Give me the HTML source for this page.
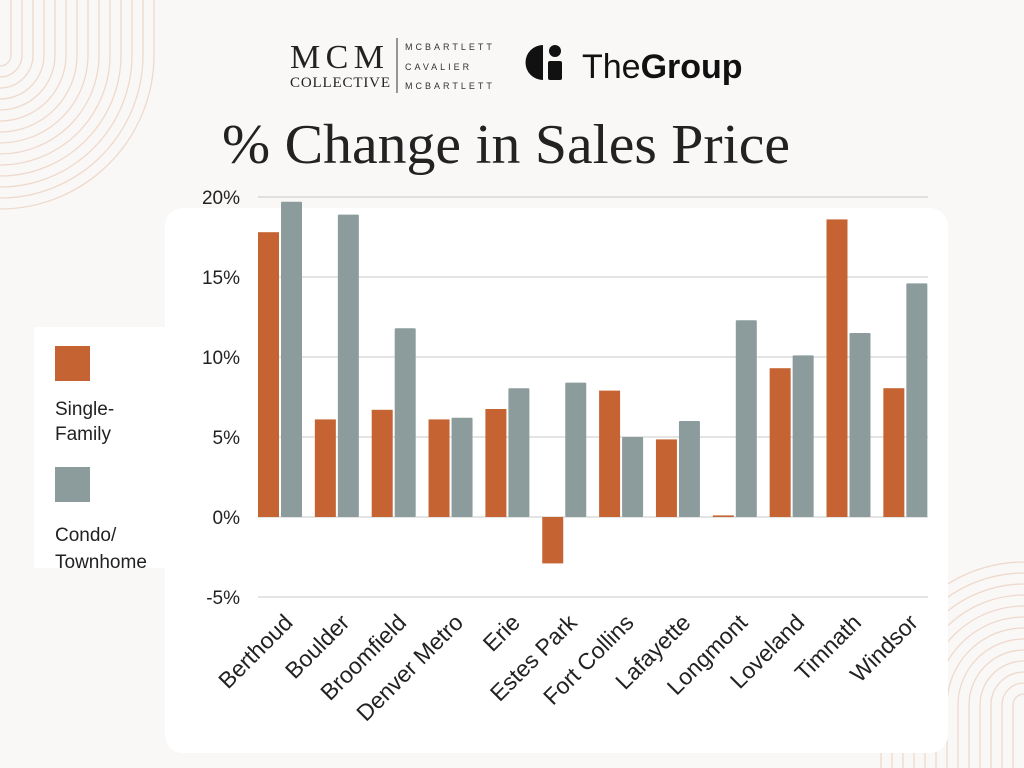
<!DOCTYPE html>
<html><head><meta charset="utf-8"><style>
body{margin:0;width:1024px;height:768px;overflow:hidden;background:#f9f8f7;font-family:"Liberation Sans",sans-serif;}
#root{position:relative;width:1024px;height:768px;}
svg{position:absolute;left:0;top:0;}
</style></head><body><div id="root">
<svg id="chart" width="1024" height="768"></svg>
</div>
<script>
const categories=["Berthoud","Boulder","Broomfield","Denver Metro","Erie","Estes Park","Fort Collins","Lafayette","Longmont","Loveland","Timnath","Windsor"];
const singleFamily=[17.8,6.1,6.7,6.1,6.75,-2.9,7.9,4.85,0.1,9.3,18.6,8.05];
const condo=[19.7,18.9,11.8,6.2,8.05,8.4,5.0,6.0,12.3,10.1,11.5,14.6];
const ticks=[-5,0,5,10,15,20];
const tickLabels=["-5%","0%","5%","10%","15%","20%"];
const NS="http://www.w3.org/2000/svg";
const svg=document.getElementById('chart');
function el(tag,attrs,parent){const e=document.createElementNS(NS,tag);for(const k in attrs)e.setAttribute(k,attrs[k]);(parent||svg).appendChild(e);return e;}
const y=v=>517-v*16;
const x0=258,step=56.85;
const xCat=i=>x0+i*step;
const deco=el('g',{fill:'none',stroke:'#efd9cc','stroke-width':1.3});


for(let r=11;r<=156;r+=11){el('path',{d:`M${r},0 L${r},55 A${r},${r} 0 0 1 0,${55+r}`},deco);}
for(let r=11;r<=145;r+=11){el('path',{d:`M${1024-r},768 L${1024-r},705 A${r},${r} 0 0 1 1024,${705-r}`},deco);}
let p=el('rect',{x:165,y:208,width:783,height:545,rx:18,fill:'#fff'});

let lb=el('rect',{x:34,y:327,width:134,height:241,fill:'#fff'});

let t=el('text',{x:222,y:163,'font-family':'Liberation Serif, serif','font-size':56,fill:'#222',textLength:568,lengthAdjust:'spacingAndGlyphs'});t.textContent='% Change in Sales Price';

let l1=el('text',{x:290,y:68,'font-family':'Liberation Serif, serif','font-size':34,fill:'#222','textLength':94});l1.textContent='MCM';

let l2=el('text',{x:290,y:87,'font-family':'Liberation Serif, serif','font-size':15,fill:'#222','textLength':100});l2.textContent='COLLECTIVE';

el('line',{x1:397,y1:38,x2:397,y2:93,stroke:'#333'});
[['MCBARTLETT',50],['CAVALIER',70],['MCBARTLETT',89]].forEach(([s,yy])=>{let e=el('text',{x:405,y:yy,'font-size':9,fill:'#333','letter-spacing':3});e.textContent=s;
});
let g=el('g',{fill:'#111'});
el('path',{d:'M543,45 A17,17 0 0 0 543,80 Z'},g);el('circle',{cx:555,cy:51,r:6},g);el('rect',{x:548,y:61,width:14,height:19,rx:2},g);
let tg=el('text',{x:582,y:78,'font-size':34,fill:'#111'});tg.innerHTML='The<tspan font-weight="bold">Group</tspan>';

ticks.forEach((v,i)=>{let ln=el('line',{x1:x0,x2:928,y1:y(v),y2:y(v),stroke:'#c8c8c8','stroke-width':1});

let tx=el('text',{x:240,y:y(v)+7,'text-anchor':'end','font-size':19,fill:'#222'});tx.textContent=tickLabels[i];
});
categories.forEach((c,i)=>{const xc=xCat(i);
const sf=singleFamily[i];let r=el('rect',{x:xc,y:Math.min(y(sf),y(0)),width:21,height:Math.max(1.5,Math.abs(y(sf)-y(0))),fill:'#c56432'});

const cv=condo[i];let r2=el('rect',{x:xc+23,y:Math.min(y(cv),y(0)),width:21,height:Math.abs(y(cv)-y(0)),fill:'#8c9c9d',rx:1});

const ax=xc+36,ay=624;
let tl=el('text',{x:ax,y:ay,'text-anchor':'end','font-size':23,fill:'#222',transform:`rotate(-45 ${ax} ${ay})`});tl.textContent=c;
});
let s1=el('rect',{x:55,y:346,width:35,height:35,fill:'#c56432'});
let s2=el('rect',{x:55,y:467,width:35,height:35,fill:'#8c9c9d'});
[['Single-',415],['Family',440],['Condo/',541],['Townhome',568]].forEach(([s,yy])=>{let e=el('text',{x:55,y:yy,'font-size':19,fill:'#222'});e.textContent=s;
});
</script></body></html>
